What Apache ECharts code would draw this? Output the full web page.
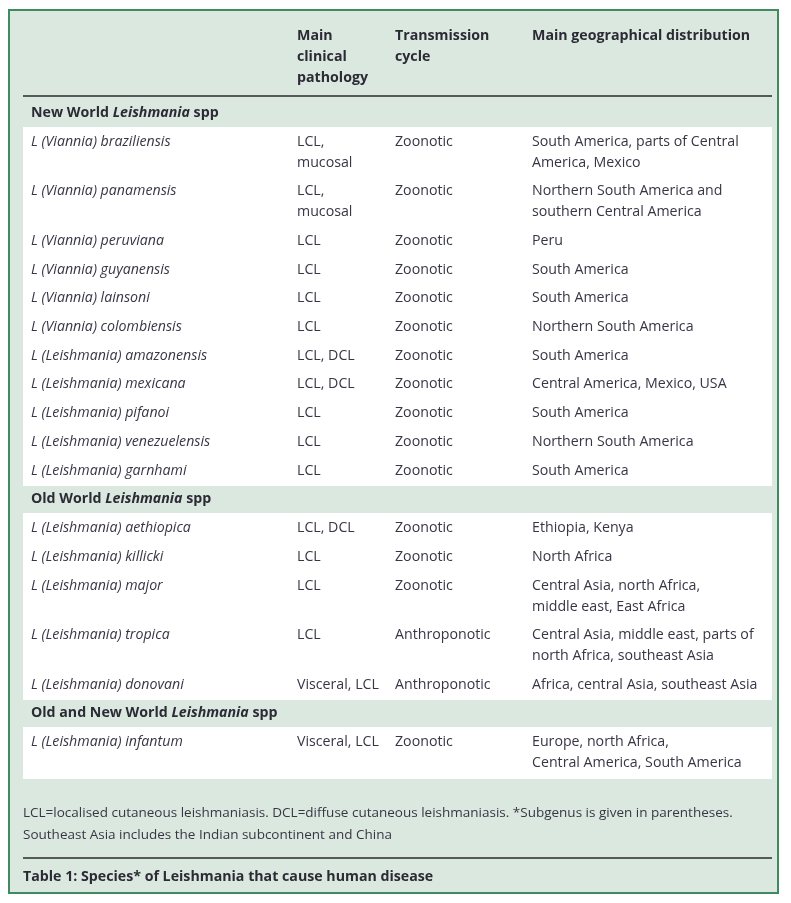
<!DOCTYPE html>
<html><head><meta charset="utf-8">
<script src="https://cdn.jsdelivr.net/npm/echarts@6/dist/echarts.min.js"></script>
<style>html,body{margin:0;padding:0;background:#fff}#c{width:791px;height:903px}</style>
</head><body><div id="c"></div>
<script>
// ---- data ----
const headers = ["", "Main\nclinical\npathology", "Transmission\ncycle", "Main geographical distribution"];
const sections = ["New World", "Old World", "Old and New World"];
const species = [
  "L (Viannia) braziliensis", "L (Viannia) panamensis", "L (Viannia) peruviana", "L (Viannia) guyanensis",
  "L (Viannia) lainsoni", "L (Viannia) colombiensis", "L (Leishmania) amazonensis", "L (Leishmania) mexicana",
  "L (Leishmania) pifanoi", "L (Leishmania) venezuelensis", "L (Leishmania) garnhami",
  "L (Leishmania) aethiopica", "L (Leishmania) killicki", "L (Leishmania) major", "L (Leishmania) tropica",
  "L (Leishmania) donovani", "L (Leishmania) infantum"];
const sectionOf = [0,0,0,0,0,0,0,0,0,0,0,1,1,1,1,1,2];
const pathology = ["LCL,\nmucosal","LCL,\nmucosal","LCL","LCL","LCL","LCL","LCL, DCL","LCL, DCL","LCL","LCL","LCL",
  "LCL, DCL","LCL","LCL","LCL","Visceral, LCL","Visceral, LCL"];
const transmission = ["Zoonotic","Zoonotic","Zoonotic","Zoonotic","Zoonotic","Zoonotic","Zoonotic","Zoonotic","Zoonotic","Zoonotic","Zoonotic",
  "Zoonotic","Zoonotic","Zoonotic","Anthroponotic","Anthroponotic","Zoonotic"];
const distribution = [
  "South America, parts of Central\nAmerica, Mexico",
  "Northern South America and\nsouthern Central America",
  "Peru", "South America", "South America", "Northern South America", "South America",
  "Central America, Mexico, USA", "South America", "Northern South America", "South America",
  "Ethiopia, Kenya", "North Africa",
  "Central Asia, north Africa,\nmiddle east, East Africa",
  "Central Asia, middle east, parts of\nnorth Africa, southeast Asia",
  "Africa, central Asia, southeast Asia",
  "Europe, north Africa,\nCentral America, South America"];
const footnote = "LCL=localised cutaneous leishmaniasis. DCL=diffuse cutaneous leishmaniasis. *Subgenus is given in parentheses.\nSoutheast Asia includes the Indian subcontinent and China";
const caption = "Table 1: Species* of Leishmania that cause human disease";

// ---- layout / style ----
const FONT = '"Open Sans"';
const FS = '14.2px ';
const TXT = '#3a3545';
const HEAD = '#2c2a34';
const BG = '#dbe8e0';
const BORDER = '#3f8a5e';
const ROW = 29, LINE = 21;
const colX = [31, 297, 395, 532];
const blockL = 23, blockR = 772;

// build rows in row units (1 unit = one single-line row)
const rows = [];
let u = 0;
sections.forEach((s, si) => {
  rows.push({type: 'section', u: u, name: s, lines: 1});
  u += 1;
  species.forEach((sp, i) => {
    if (sectionOf[i] !== si) return;
    const cells = [sp, pathology[i], transmission[i], distribution[i]];
    const lines = Math.max(...cells.map(c => c.split('\n').length));
    rows.push({type: 'species', u: u, cells: cells, lines: lines});
    u += 1 + (lines - 1) * LINE / ROW;
  });
});
const data = rows.map((r, i) => [0, r.u, i]);

const chart = echarts.init(document.getElementById('c'), null, {renderer: 'canvas'});
chart.setOption({
  backgroundColor: '#ffffff',
  animation: false,
  grid: {left: 0, width: 791, top: 12.5, height: 899},
  xAxis: {type: 'value', min: 0, max: 791, show: false},
  yAxis: {type: 'value', min: -3.5, max: 27.5, inverse: true, show: false},
  graphic: [
    {type: 'rect', shape: {x: 9, y: 10, width: 769, height: 883}, style: {fill: BG, stroke: BORDER, lineWidth: 2}, z: -10},
    {type: 'text', x: colX[1], y: 36 - LINE/2, style: {text: headers[1], font: 'bold ' + FS + FONT, fill: HEAD, lineHeight: LINE, verticalAlign: 'top'}},
    {type: 'text', x: colX[2], y: 36 - LINE/2, style: {text: headers[2], font: 'bold ' + FS + FONT, fill: HEAD, lineHeight: LINE, verticalAlign: 'top'}},
    {type: 'text', x: colX[3], y: 36 - LINE/2, style: {text: headers[3], font: 'bold ' + FS + FONT, fill: HEAD, lineHeight: LINE, verticalAlign: 'top'}},
    {type: 'line', shape: {x1: blockL, y1: 96, x2: blockR, y2: 96}, style: {stroke: '#2a2a2a', lineWidth: 1.5}},
    {type: 'text', x: blockL, y: 813 - 11, style: {text: footnote, font: '13.5px ' + FONT, fill: TXT, lineHeight: 22, verticalAlign: 'top'}},
    {type: 'line', shape: {x1: blockL, y1: 858, x2: blockR, y2: 858}, style: {stroke: '#2a2a2a', lineWidth: 1.5}},
    {type: 'text', x: blockL, y: 877, style: {text: caption, font: 'bold ' + FS + FONT, fill: HEAD, verticalAlign: 'middle'}}
  ],
  series: [{
    type: 'custom',
    coordinateSystem: 'cartesian2d',
    encode: {x: 0, y: 1},
    data: data,
    renderItem: function (params, api) {
      const r = rows[api.value(2)];
      const y = api.coord([0, api.value(1)])[1];
      const unit = api.size([0, 1])[1];
      const xl = api.coord([blockL, 0])[0], xr = api.coord([blockR, 0])[0];
      const children = [];
      if (r.type === 'section') {
        children.push({type: 'text', x: api.coord([colX[0], 0])[0], y: y, style: {
          text: '{b|' + r.name + ' }{bi|Leishmania}{b| spp}',
          verticalAlign: 'middle',
          rich: {
            b: {font: 'bold ' + FS + FONT, fill: HEAD},
            bi: {font: 'italic bold ' + FS + FONT, fill: HEAD}
          }
        }});
      } else {
        const top = Math.floor(y - unit/2);
        const bot = Math.ceil(y + unit/2 + (r.lines - 1) * LINE);
        children.push({type: 'rect', shape: {x: xl, y: top, width: xr - xl, height: bot - top + 1},
          style: {fill: '#ffffff'}, z2: 0});
        r.cells.forEach((c, ci) => {
          children.push({type: 'text', x: api.coord([colX[ci], 0])[0], y: y - LINE/2, z2: 5, style: {
            text: c, font: (ci === 0 ? 'italic ' : '') + FS + FONT, fill: TXT,
            lineHeight: LINE, verticalAlign: 'top'
          }});
        });
      }
      return {type: 'group', children: children};
    }
  }]
});
</script></body></html>
